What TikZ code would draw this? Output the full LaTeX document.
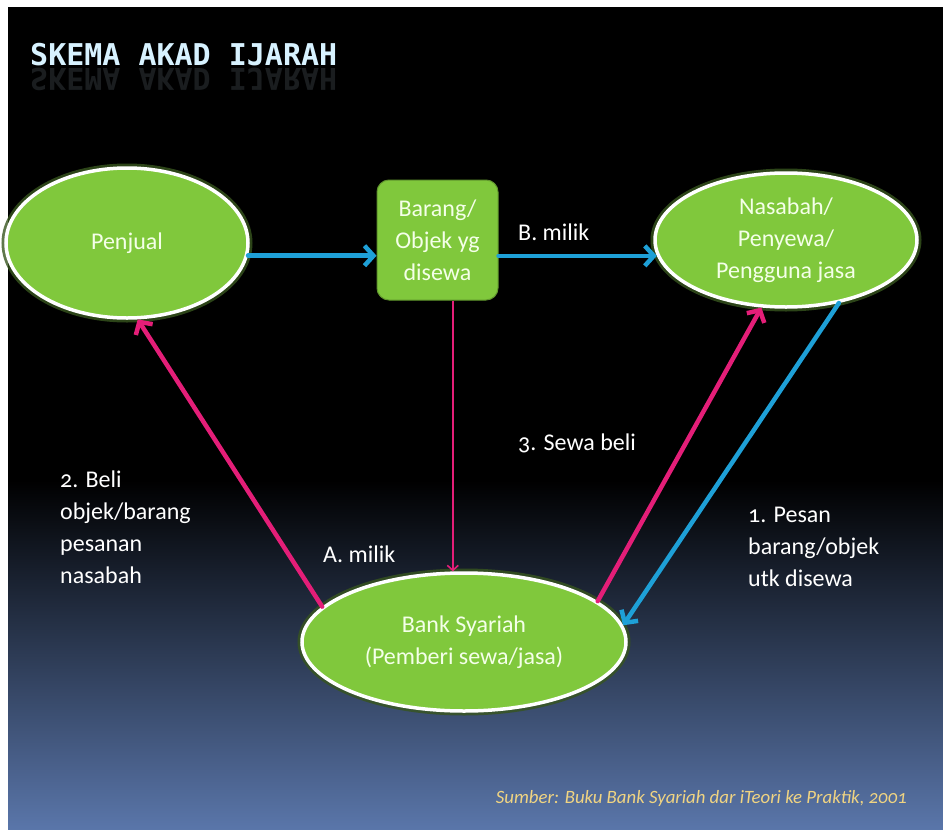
\documentclass[tikz,border=0pt]{standalone}
\usepackage{fontspec}
\setmainfont{Carlito}[Numbers=OldStyle]
\newfontfamily\titlefont{DejaVu Sans Mono}
\usetikzlibrary{shapes.geometric,arrows.meta}
\definecolor{nodegreen}{RGB}{128,200,60}
\definecolor{glowgreen}{RGB}{55,85,30}
\definecolor{arrowblue}{RGB}{30,160,215}
\definecolor{arrowpink}{RGB}{228,30,120}
\definecolor{nodetext}{RGB}{244,255,232}
\definecolor{titlecol}{RGB}{215,242,255}
\definecolor{srccol}{RGB}{240,212,130}
\definecolor{bgblue}{RGB}{90,118,170}
\tikzset{
  oval/.style={ellipse, fill=nodegreen, draw=white, line width=3.5pt, inner sep=0pt,
    text=nodetext, font=\fontsize{24}{32}\selectfont, align=center,
    preaction={draw=glowgreen, line width=9pt, opacity=0.8}},
  itembox/.style={rectangle, rounded corners=12pt, fill=nodegreen, draw=nodegreen!75!black,
    line width=1pt, inner sep=0pt, minimum width=121pt, minimum height=120pt,
    text=nodetext, font=\fontsize{24}{32}\selectfont, align=center},
  lbl/.style={text=white, font=\fontsize{24}{32}\selectfont, inner sep=0pt, align=left},
  titlestyle/.style={text=titlecol, font=\titlefont\bfseries\fontsize{30}{30}\selectfont, inner sep=0pt},
  blueconn/.style={draw=arrowblue, line width=4.5pt, line cap=round,
    -{Straight Barb[length=9pt,width=20pt]}},
  pinkconn/.style={draw=arrowpink, line width=4.5pt, line cap=round,
    -{Straight Barb[length=9pt,width=20pt]}},
  thinpink/.style={draw=arrowpink, line width=1.6pt,
    -{Straight Barb[length=5pt,width=11pt]}}
}
\begin{document}
\begin{tikzpicture}[x=1pt,y=1pt]
\useasboundingbox (0,0) rectangle (943,-830);
\fill[white] (0,0) rectangle (943,-830);
% slide background
\fill[black] (8,-7) rectangle (943,-481);
\shade[top color=black, middle color=bgblue!33!black, bottom color=bgblue] (8,-480) rectangle (943,-830);

% title with reflection
\node[titlestyle, anchor=base west] (title) at (30,-65) {SKEMA AKAD IJARAH};
\node[titlestyle, anchor=base west, yscale=-1, transform shape, opacity=0.12] (titlerefl) at (30,-68) {SKEMA AKAD IJARAH};

% nodes
\node[oval, minimum width=242pt, minimum height=150pt] (penjual) at (127,-243) {Penjual};
\node[itembox] (box) at (437.5,-240) {Barang/\\Objek yg\\disewa};
\node[oval, minimum width=262pt, minimum height=134pt] (nasabah) at (786,-240) {Nasabah/\\Penyewa/\\Pengguna jasa};
\node[oval, minimum width=324pt, minimum height=138pt] (bank) at (464,-642) {Bank Syariah\\(Pemberi sewa/jasa)};

% connectors
\draw[blueconn] (penjual.-6) -- (penjual.-6 -| box.west);
\draw[blueconn] (box.east |- nasabah.187) -- (nasabah.187);
\draw[thinpink] (bank.99 |- box.south) -- (bank.99);
\draw[pinkconn] (bank.166) -- (penjual.-82);
\draw[pinkconn] (bank.17) -- (nasabah.250);
\draw[blueconn] (nasabah.-50) -- (bank.6);

% labels
\node[lbl, anchor=base west] (lblB) at (518,-240) {B. milik};
\node[lbl, anchor=base west] (lbl3) at (518,-450) {3. Sewa beli};
\node[lbl, anchor=base west] (lblA) at (323,-562) {A. milik};
\node[lbl, anchor=north west] (lbl2) at (60,-471) {2. Beli\\objek/barang\\pesanan\\nasabah};
\node[lbl, anchor=north west] (lbl1) at (748,-507) {1. Pesan\\barang/objek\\utk disewa};
\node[text=srccol, font=\itshape\fontsize{18.8}{22}\selectfont, inner sep=0pt, anchor=base east] (src) at (907,-803)
  {Sumber: Buku Bank Syariah dar iTeori ke Praktik, 2001};
\end{tikzpicture}
\end{document}
